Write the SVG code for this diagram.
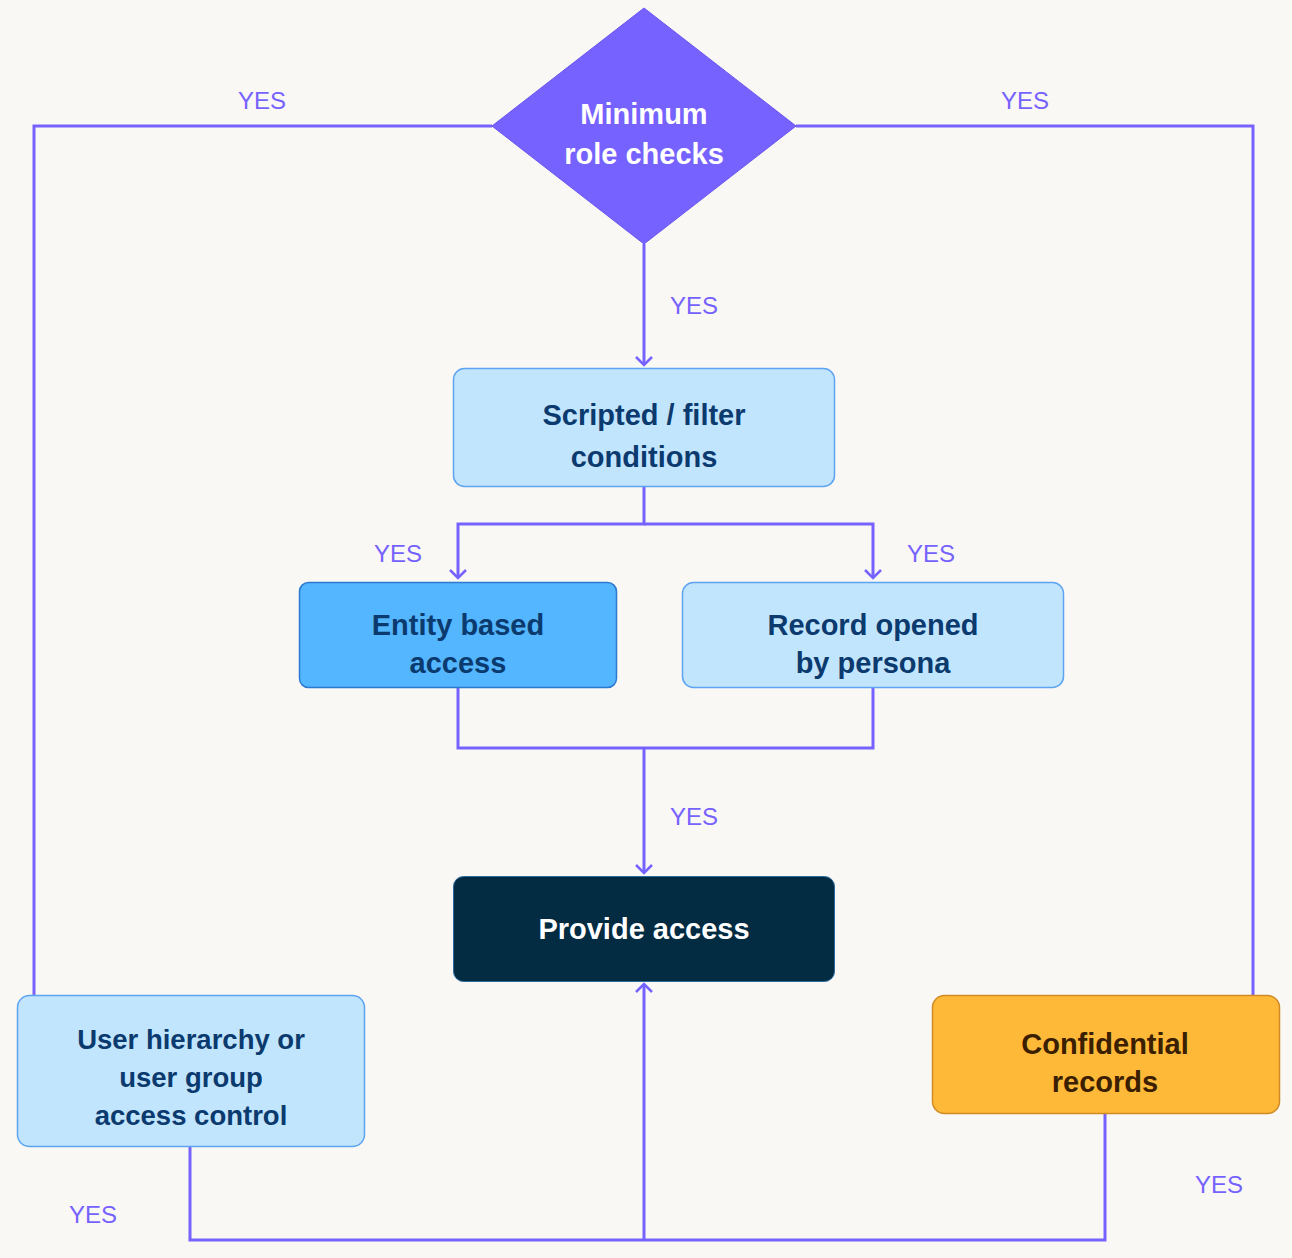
<svg xmlns="http://www.w3.org/2000/svg" width="1292" height="1258" viewBox="0 0 1292 1258">
<defs>
<style>
.bg{fill:#f9f8f5}
.ln{fill:none;stroke:#7662fe;stroke-width:3}
.lbl{font-family:"Liberation Sans",Arial,sans-serif;font-size:24px;fill:#7662fe;text-anchor:middle}
.t{font-family:"Liberation Sans",Arial,sans-serif;font-size:29px;font-weight:bold;text-anchor:middle}
.sm{font-size:27.5px}
.light{fill:#c2e5fe;stroke:#5ea4f0;stroke-width:1.5}
.dk{fill:#0b3a6e}
</style>
<marker id="arr" viewBox="0 0 18 18" refX="16" refY="9" markerWidth="18" markerHeight="18" markerUnits="userSpaceOnUse" orient="auto">
<path d="M8,1 L16,9 L8,17" fill="none" stroke="#7662fe" stroke-width="2.5"/>
</marker>
</defs>
<rect class="bg" x="0" y="0" width="1292" height="1258"/>
<g id="connectors">
<path class="ln" d="M492,126 H34 V995"/>
<path class="ln" d="M796,126 H1253 V995"/>
<path class="ln" d="M644,244 V365" marker-end="url(#arr)"/>
<path class="ln" d="M644,486 V524 H458 V578" marker-end="url(#arr)"/>
<path class="ln" d="M644,524 H873 V578" marker-end="url(#arr)"/>
<path class="ln" d="M458,687 V748 H873 V687"/>
<path class="ln" d="M644,748 V873" marker-end="url(#arr)"/>
<path class="ln" d="M190,1146 V1240 H1105 V1113"/>
<path class="ln" d="M644,1240 V984" marker-end="url(#arr)"/>
<text class="lbl" x="262" y="109">YES</text>
<text class="lbl" x="1025" y="109">YES</text>
<text class="lbl" x="694" y="314">YES</text>
<text class="lbl" x="398" y="562">YES</text>
<text class="lbl" x="931" y="562">YES</text>
<text class="lbl" x="694" y="825">YES</text>
<text class="lbl" x="93" y="1223">YES</text>
<text class="lbl" x="1219" y="1193">YES</text>
</g>
<g id="minimum-role-checks">
<polygon points="644,8 796,126 644,244 492,126" fill="#7662fe" stroke="#6a55f0" stroke-width="1"/>
<text class="t" x="644" y="124" fill="#ffffff">Minimum</text>
<text class="t" x="644" y="164" fill="#ffffff">role checks</text>
</g>
<g id="scripted-filter">
<rect class="light" x="453.5" y="368.5" width="381" height="118" rx="11"/>
<text class="t dk" x="644" y="425">Scripted / filter</text>
<text class="t dk" x="644" y="467">conditions</text>
</g>
<g id="entity-based">
<rect x="299.5" y="582.5" width="317" height="105" rx="9" fill="#54b6fe" stroke="#2c7ad0" stroke-width="1.5"/>
<text class="t dk" x="458" y="635">Entity based</text>
<text class="t dk" x="458" y="673">access</text>
</g>
<g id="record-opened">
<rect class="light" x="682.5" y="582.5" width="381" height="105" rx="11"/>
<text class="t dk" x="873" y="635">Record opened</text>
<text class="t dk" x="873" y="673">by persona</text>
</g>
<g id="provide-access">
<rect x="453.5" y="876.5" width="381" height="105" rx="10" fill="#032b42" stroke="#2c6aa0" stroke-width="1"/>
<text class="t" x="644" y="939" fill="#ffffff">Provide access</text>
</g>
<g id="user-hierarchy">
<rect class="light" x="17.5" y="995.5" width="347" height="151" rx="12"/>
<text class="t sm dk" x="191" y="1049">User hierarchy or</text>
<text class="t sm dk" x="191" y="1087">user group</text>
<text class="t sm dk" x="191" y="1125">access control</text>
</g>
<g id="confidential">
<rect x="932.5" y="995.5" width="347" height="118" rx="12" fill="#ffb938" stroke="#d08b25" stroke-width="1.5"/>
<text class="t" x="1105" y="1054" fill="#3a2000">Confidential</text>
<text class="t" x="1105" y="1092" fill="#3a2000">records</text>
</g>
</svg>
